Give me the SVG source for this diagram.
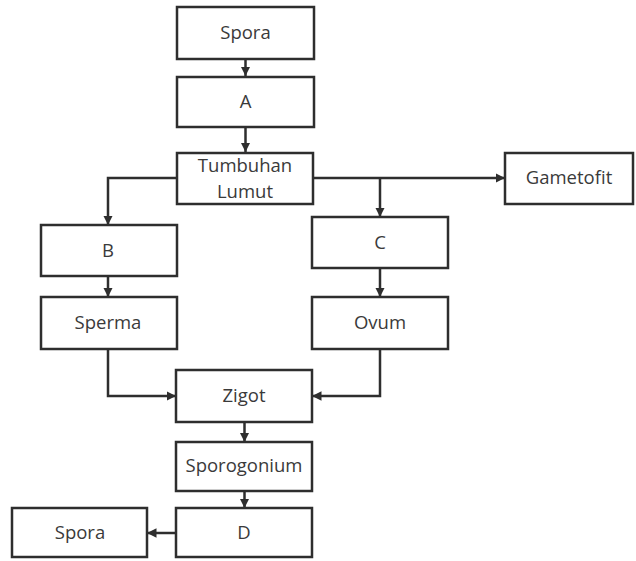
<svg xmlns="http://www.w3.org/2000/svg" width="636" height="561" viewBox="0 0 636 561">
<defs>
<style>
.box{fill:#fff;stroke:#2e2e2e;stroke-width:2.5}
.t{font-family:"Open Sans","Liberation Sans",sans-serif;font-size:18.5px;fill:#3a3a3a;text-anchor:middle}
.c{fill:none;stroke:#2e2e2e;stroke-width:2.5}
</style>
<marker id="ah" viewBox="0 0 10 10" refX="10" refY="5" markerWidth="3.8" markerHeight="3.8" markerUnits="strokeWidth" orient="auto">
<path d="M0,0 L10,5 L0,10 z" fill="#2e2e2e"/>
</marker>
</defs>
<rect width="636" height="561" fill="#fff"/>
<g id="connectors">
<path class="c" d="M245.5,59 V76" marker-end="url(#ah)"/>
<path class="c" d="M245.5,127 V152" marker-end="url(#ah)"/>
<path class="c" d="M177,178 H108 V225" marker-end="url(#ah)"/>
<path class="c" d="M313,178 H505" marker-end="url(#ah)"/>
<path class="c" d="M380,178 V217" marker-end="url(#ah)"/>
<path class="c" d="M108,276 V297" marker-end="url(#ah)"/>
<path class="c" d="M380,268 V297" marker-end="url(#ah)"/>
<path class="c" d="M108,349 V396 H176" marker-end="url(#ah)"/>
<path class="c" d="M380,349 V396 H312" marker-end="url(#ah)"/>
<path class="c" d="M244.5,422 V442" marker-end="url(#ah)"/>
<path class="c" d="M244.5,491 V508" marker-end="url(#ah)"/>
<path class="c" d="M176,533 H147" marker-end="url(#ah)"/>
</g>
<g id="spora1"><rect class="box" x="177" y="7" width="137" height="52"/><text class="t" x="245.5" y="39">Spora</text></g>
<g id="a"><rect class="box" x="177" y="77" width="137" height="50"/><text class="t" x="245.5" y="108">A</text></g>
<g id="tumbuhan"><rect class="box" x="177" y="153" width="136" height="51"/><text class="t" x="245" y="172">Tumbuhan</text><text class="t" x="245" y="198">Lumut</text></g>
<g id="gametofit"><rect class="box" x="505" y="153" width="128" height="51"/><text class="t" x="569" y="184">Gametofit</text></g>
<g id="b"><rect class="box" x="41" y="225" width="136" height="51"/><text class="t" x="108" y="257">B</text></g>
<g id="c"><rect class="box" x="312" y="217" width="136" height="51"/><text class="t" x="380" y="249">C</text></g>
<g id="sperma"><rect class="box" x="41" y="297" width="136" height="52"/><text class="t" x="108" y="329">Sperma</text></g>
<g id="ovum"><rect class="box" x="312" y="297" width="136" height="52"/><text class="t" x="380" y="329">Ovum</text></g>
<g id="zigot"><rect class="box" x="176" y="370" width="136" height="52"/><text class="t" x="244" y="402">Zigot</text></g>
<g id="sporogonium"><rect class="box" x="176" y="442" width="136" height="49"/><text class="t" x="244" y="472">Sporogonium</text></g>
<g id="d"><rect class="box" x="176" y="508" width="136" height="49"/><text class="t" x="244" y="539">D</text></g>
<g id="spora2"><rect class="box" x="12" y="508" width="135" height="49"/><text class="t" x="80" y="539">Spora</text></g>
</svg>
